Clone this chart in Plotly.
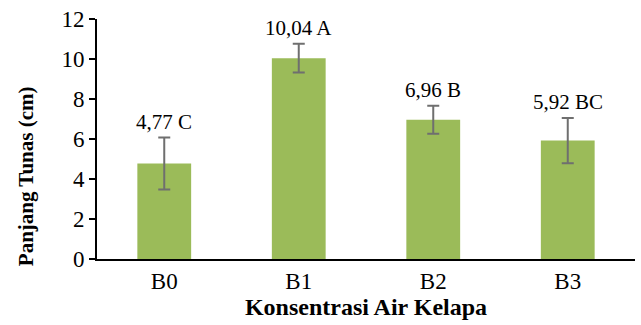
import plotly.graph_objects as go

categories = ["B0", "B1", "B2", "B3"]
means = [4.77, 10.04, 6.96, 5.92]
errors = [1.3, 0.72, 0.70, 1.13]
letters = ["C", "A", "B", "BC"]
y_ticks = [0, 2, 4, 6, 8, 10, 12]

FONT = "Liberation Serif, Times New Roman, serif"

fig = go.Figure()
fig.add_trace(go.Bar(
    x=categories, y=means,
    marker=dict(color="#9BBB59", line=dict(width=0)),
    width=0.4,
    error_y=dict(type="data", array=errors, visible=True,
                 color="#6f6f6f", thickness=2, width=6),
))

for c, m, e, l in zip(categories, means, errors, letters):
    fig.add_annotation(
        x=c, y=m + e, text=f"{m:.2f}".replace(".", ",") + " " + l,
        showarrow=False, yanchor="bottom", yshift=2,
        font=dict(family=FONT, size=21, color="black"),
    )

fig.add_annotation(
    xref="paper", yref="paper", x=-0.132, y=0.345,
    xanchor="center", yanchor="middle",
    text="<b>Panjang Tunas (cm)</b>", textangle=-90, showarrow=False,
    font=dict(family=FONT, size=21, color="black"),
)

fig.update_layout(
    width=641, height=325,
    margin=dict(l=97, r=6, t=19, b=66),
    paper_bgcolor="white", plot_bgcolor="white",
    showlegend=False,
    xaxis=dict(
        showline=True, linecolor="black", linewidth=2,
        ticks="", tickfont=dict(family=FONT, size=23, color="black"),
        title=dict(text="<b>Konsentrasi Air Kelapa</b>",
                   font=dict(family=FONT, size=24, color="black"), standoff=4),
        showgrid=False,
    ),
    yaxis=dict(
        range=[0, 12], tickvals=y_ticks,
        showline=True, linecolor="black", linewidth=2,
        ticks="outside", ticklen=6, tickwidth=2, tickcolor="black",
        tickfont=dict(family=FONT, size=23, color="black"),
        showgrid=False, zeroline=False,
    ),
)

fig.write_html("out.html", config={"displayModeBar": False},
               post_script="document.body.style.margin='0';")
